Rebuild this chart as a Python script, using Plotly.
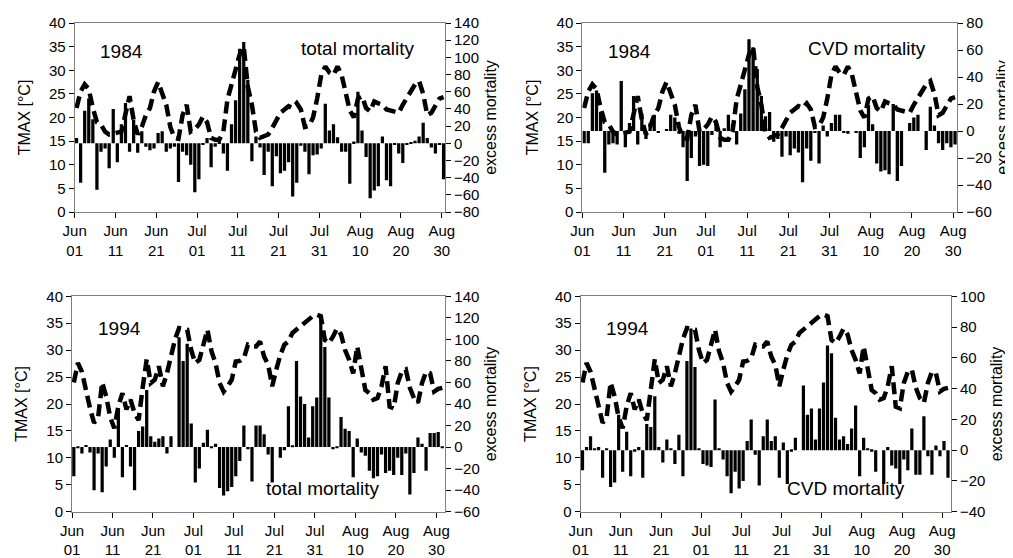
import plotly.graph_objects as go

# ---------------- data ----------------
tick_labels = ["Jun<br>01", "Jun<br>11", "Jun<br>21", "Jul<br>01", "Jul<br>11",
               "Jul<br>21", "Jul<br>31", "Aug<br>10", "Aug<br>20", "Aug<br>30"]
tick_days = [0, 10, 20, 30, 40, 50, 60, 70, 80, 90]

tmax_1984 = [22, 25.5, 27, 26, 22, 19, 18.5, 17, 16.4, 16.5,
             16.8, 17, 21, 24.5, 19.5, 16.4, 18, 20.5, 22, 25.5,
             27.5, 25, 22.7, 18, 15.7, 15.5, 20.5, 22.7, 17, 17.5,
             18.5, 20.2, 19, 15.7, 15.3, 15.3, 17, 23.8, 27, 30.5,
             33.3, 35, 26.5, 22.7, 17, 15.7, 16, 16.4, 17.8, 19.5,
             21, 21.7, 22.4, 22, 23, 21.7, 18, 18.2, 20, 24,
             29, 30.8, 29.5, 29, 30.8, 29, 25, 21.5, 20, 24,
             24.5, 22, 21.3, 23.4, 23, 22.7, 21.7, 21.5, 21.3, 21,
             22.7, 24, 25.5, 27, 27.7, 25, 20.5, 21, 22.5, 24, 24.3]

total_1984 = [6, -46, 38, 52, 28, -54, -10, -6, -29, 40,
              -22, 22, 47, -10, 27, -11, 14, -4, -8, -6,
              12, 14, -10, -6, -4, -45, -10, -14, -25, -57,
              -42, -2, 6, -28, -4, 2, -12, -32, 22, 50,
              110, 118, 74, -21, 8, -5, -37, -10, -50, -15,
              -35, -32, -22, -62, -46, -3, -10, -36, -14, -13,
              -6, 46, 15, 22, 7, -10, -10, -47, 2, 60,
              15, -16, -64, -55, -50, 8, -43, -50, -1, -12,
              -23, -1, 1, 3, 8, 24, 6, -5, -12, -2, -42]

cvd_1984 = [-9, -9, 28, 30, 14, -31, -10, -9, -10, 37,
            -12, 6, 26, -10, 13, -6, 6, 12, -1, 0,
            1, 12, 10, -2, -12, -37, -20, -4, -26, -25,
            -26, -3, 8, -12, 2, 12, 5, -10, 13, 31,
            68, 62, 46, 26, 11, 14, -8, -6, -19, -4,
            -18, -13, -16, -38, -13, -22, -1, -24, 4, -4,
            6, 12, 12, -1, -2, 0, -1, -20, -12, 19,
            5, -24, -30, -29, -32, 20, -37, -26, 0, 6,
            10, 12, 0, -14, 18, 4, -9, -14, -9, -12, -10]

tmax_1994 = [24, 27.6, 26, 22.5, 19.2, 16.5, 17.5, 24, 21.4, 17.5,
             15.5, 19.6, 22, 19, 20.8, 18.3, 17, 23, 28.3, 23.9,
             24.5, 27, 23.3, 25.7, 28.8, 32, 34.1, 34, 33.8, 30,
             27.6, 28.2, 31, 33.8, 29.8, 27.6, 23.9, 22.3, 23.3, 24.5,
             27.9, 28, 28.5, 31, 30.7, 30.7, 31.6, 28.8, 27.3, 23.3,
             26.4, 29.1, 31, 31.6, 33.2, 33.8, 34.3, 35, 35.6, 36.3,
             36.6, 36.3, 31.9, 31.3, 32.5, 34, 32.9, 30, 28.2, 25.7,
             30.7, 27, 22.6, 22, 20.8, 21.1, 23.3, 27, 19.5, 19.2,
             23.9, 26, 26.4, 23, 21.1, 20.2, 23.9, 26, 25.7, 22.3,
             22.8, 23]

total_1994 = [-27, -1, -6, 2, -5, -40, -6, -42, -18, 7,
              -10, 34, -28, 2, -18, -40, 15, 19, 53, 10,
              5, 8, 10, -6, 10, 0, 102, 80, 96, 22,
              -33, -20, 4, 16, -1, 3, -38, -45, -41, -37,
              -27, -13, 20, -2, -32, 20, 20, 12, -7, -33,
              0, -10, -3, 38, 1, 80, 47, 40, 9, 38,
              46, 122, 93, 46, -2, -1, 28, 17, 15, -28,
              8, -5, -8, -22, -29, -27, -7, -24, -22, -26,
              -10, -26, -6, -44, -24, 9, 3, -22, 13, 13,
              14, -1]

cvd_1994 = [-13, 2, 9, 1, 2, -18, 1, -24, -21, 23,
            -14, 12, -17, -1, 2, -18, 17, 15, 35, 2,
            -8, 7, 1, -9, 10, -17, 58, 79, 54, 1,
            -9, -10, -11, 33, 1, -6, -17, -28, -14, -25,
            -20, 6, 20, -3, -23, 9, 20, 6, 9, -18,
            5, -22, -1, 8, 0, 42, 23, 27, 7, 27,
            44, 68, 63, 21, 7, 9, 4, 14, 29, -17,
            8, 1, -1, -14, 0, -22, 2, -10, -12, -22,
            -6, -13, 14, -16, -16, 22, -4, -16, 3, -4,
            6, -18]

# ---------------- layout helpers ----------------
W, H = 1013, 558
FONT = "Liberation Sans, Arial, sans-serif"

panels = [
    (tmax_1984, total_1984, "1984", "total mortality", (66.7, 437.0), (15, 204), 90.8, (-80, 140), 20, "top"),
    (tmax_1984, cvd_1984, "1984", "CVD mortality", (574.3, 949.3), (15, 204), 91.0, (-60, 80), 20, "top"),
    (tmax_1994, total_1994, "1994", "total mortality", (64.0, 437.3), (288.3, 503.7), 92.2, (-60, 140), 20, "bottom"),
    (tmax_1994, cvd_1994, "1994", "CVD mortality", (572.7, 943.0), (288.3, 503.7), 92.2, (-40, 100), 20, "bottom"),
]

fig = go.Figure()
layout = dict(
    width=W, height=H,
    margin=dict(l=0, r=0, t=0, b=0, autoexpand=False),
    paper_bgcolor="white", plot_bgcolor="white",
    showlegend=False,
    font=dict(family=FONT, size=15, color="black"),
)
annotations = []

axis_line = "#7f7f7f"

for k, (tmax, mort, year, label, (x0, x1), (y0, y1), xmax, mrange, mdt, pos) in enumerate(panels):
    n = k + 1
    xa = "xaxis" if n == 1 else f"xaxis{n}"
    xref = "x" if n == 1 else f"x{n}"
    ym_idx = 2 * n - 1
    yt_idx = 2 * n
    yma = "yaxis" if ym_idx == 1 else f"yaxis{ym_idx}"
    ymref = "y" if ym_idx == 1 else f"y{ym_idx}"
    yta = f"yaxis{yt_idx}"
    ytref = f"y{yt_idx}"

    dom_x = [x0 / W, x1 / W]
    dom_y = [1 - y1 / H, 1 - y0 / H]

    days_bar = [i + 0.45 for i in range(len(mort))]
    days_t = [i + 0.45 for i in range(len(tmax))]

    fig.add_trace(go.Bar(x=days_bar, y=mort, xaxis=xref, yaxis=ymref,
                         marker=dict(color="black", line=dict(width=0)),
                         width=0.8))
    fig.add_trace(go.Scatter(x=days_t, y=tmax, xaxis=xref, yaxis=ytref,
                             mode="lines",
                             line=dict(color="black", width=4.5, dash="12px,6px")))

    layout[xa] = dict(domain=dom_x, anchor=ytref, range=[0, xmax], automargin=False,
                      tickvals=tick_days, ticktext=tick_labels,
                      ticks="outside", ticklen=5, tickcolor="black",
                      showline=True, linecolor=axis_line, linewidth=1, mirror=True,
                      showgrid=False, zeroline=False,
                      tickfont=dict(size=15, family=FONT))
    layout[yma] = dict(domain=dom_y, anchor=xref, side="right", automargin=False,
                       range=list(mrange), dtick=mdt, tick0=0,
                       ticks="outside", ticklen=5, tickcolor="black",
                       showline=True, linecolor=axis_line, linewidth=1,
                       showgrid=False, zeroline=False,
                       tickfont=dict(size=15, family=FONT),
                       title=dict(text="excess mortality", standoff=6,
                                  font=dict(size=16, family=FONT)))
    layout[yta] = dict(domain=dom_y, anchor=xref, side="left", overlaying=ymref,
                       automargin=False,
                       range=[0, 40], dtick=5,
                       ticks="outside", ticklen=5, tickcolor="black",
                       showline=True, linecolor=axis_line, linewidth=1,
                       showgrid=False, zeroline=False,
                       tickfont=dict(size=15, family=FONT),
                       title=dict(text="TMAX [°C]", standoff=14,
                                  font=dict(size=16, family=FONT)))

    yr_y = 44 if pos == "top" else 320
    yr_x = x0 + 47
    annotations.append(dict(x=yr_x / W, y=1 - yr_y / H, xref="paper", yref="paper",
                            text=year, showarrow=False,
                            font=dict(size=19, family=FONT, color="black"),
                            xanchor="center", yanchor="middle"))
    if pos == "top":
        lx = x0 + (349 - 66.7) if n == 1 else x0 + (859 - 574.3)
        ly = 41
    else:
        lx = x0 + (314 - 64.0) if n == 3 else x0 + (838 - 572.7)
        ly = 480
    annotations.append(dict(x=lx / W, y=1 - ly / H, xref="paper", yref="paper",
                            text=label, showarrow=False,
                            font=dict(size=19, family=FONT, color="black"),
                            xanchor="center", yanchor="middle"))

layout["annotations"] = annotations
fig.update_layout(**layout)
fig.write_html("out.html")
